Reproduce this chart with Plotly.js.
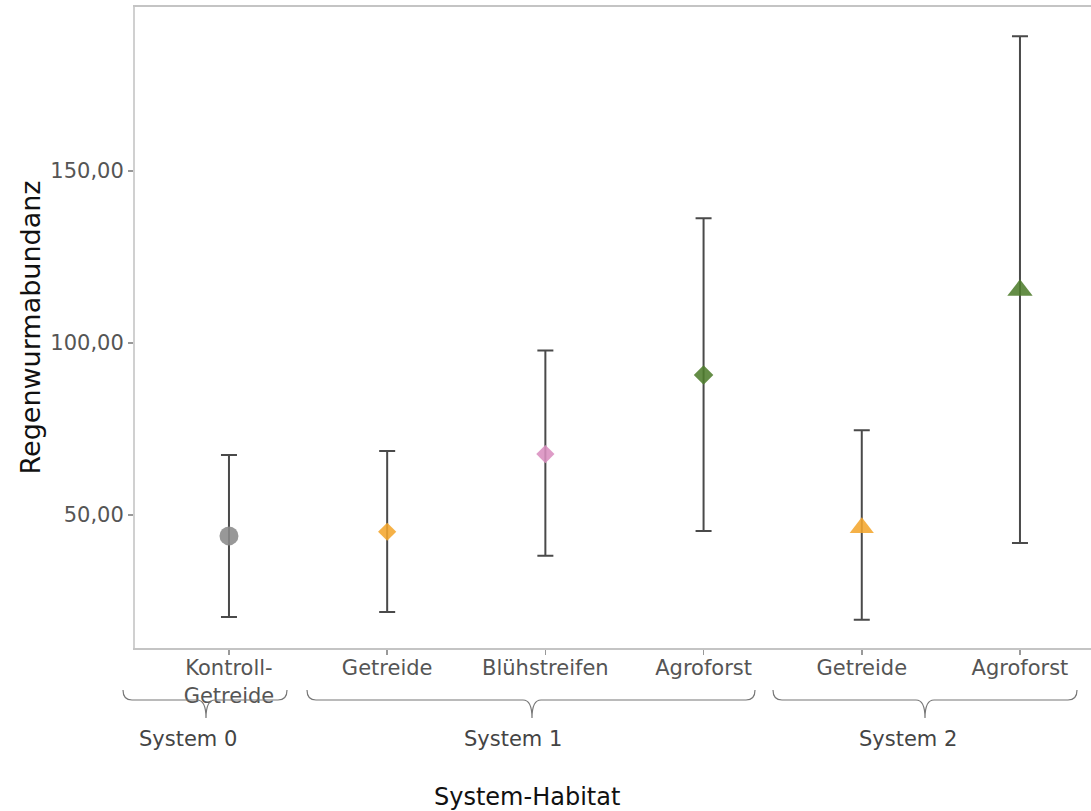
<!DOCTYPE html>
<html>
<head>
<meta charset="utf-8">
<script src="https://cdn.plot.ly/plotly-3.0.1.min.js"></script>
<style>html,body{margin:0;padding:0;background:#fff;}#chart{width:1091px;height:811px;}</style>
</head>
<body>
<div id="chart"></div>
<script>
// ---- data ----
const categories = ['Kontroll-<br>Getreide', 'Getreide', 'Blühstreifen', 'Agroforst', 'Getreide', 'Agroforst'];
const systems = ['System 0', 'System 1', 'System 2'];
const means = [43.9, 45.1, 67.7, 90.7, 46.3, 115.3];
const upper = [67.4, 68.6, 97.8, 136.3, 74.6, 189.2];
const lower = [20.3, 21.8, 38.1, 45.3, 19.5, 41.8];
const yTicks = [50, 100, 150];

// ---- styles ----
const markerColors = ['#8a8a8a', '#F4A62E', '#DA8EBF', '#4F7D2C', '#F4A62E', '#4F7D2C'];
const markerSymbols = ['circle', 'diamond', 'diamond', 'diamond', 'triangle-up', 'triangle-up'];
const markerSizes = [19, 14, 14, 15, 21, 22];

const xIdx = categories.map((_, i) => i);

const trace = {
  type: 'scatter',
  mode: 'markers',
  x: xIdx,
  y: means,
  error_y: {
    type: 'data',
    symmetric: false,
    array: upper.map((u, i) => u - means[i]),
    arrayminus: lower.map((l, i) => means[i] - l),
    color: '#4a4a4a',
    thickness: 2,
    width: 8
  },
  marker: {
    color: markerColors,
    symbol: markerSymbols,
    size: markerSizes,
    opacity: 0.88,
    line: {width: 0}
  },
  hoverinfo: 'x+y',
  showlegend: false
};

// pixel -> paper helpers (layout geometry)
const W = 1091, H = 811, ML = 135, MT = 7, MB = 163;
const PW = W - ML, PH = H - MT - MB;
const px = X => (X - ML) / PW;
const py = Y => (H - MB - Y) / PH;

function brace(x0, x1, xc) {
  const yt = 690, ym = 700, ytip = 718, r = 9;
  const p = (X, Y) => px(X).toFixed(5) + ',' + py(Y).toFixed(5);
  return 'M' + p(x0, yt) + ' Q' + p(x0, ym) + ' ' + p(x0 + r, ym) +
    ' L' + p(xc - r, ym) + ' Q' + p(xc, ym) + ' ' + p(xc, ytip) +
    ' Q' + p(xc, ym) + ' ' + p(xc + r, ym) +
    ' L' + p(x1 - r, ym) + ' Q' + p(x1, ym) + ' ' + p(x1, yt);
}

const braceDefs = [[123, 287, 206], [307, 755, 532], [773, 1077, 925]];
const labelX = [188, 513, 908];

const shapes = braceDefs.map(b => ({
  type: 'path', xref: 'paper', yref: 'paper',
  path: brace(b[0], b[1], b[2]),
  line: {color: '#777', width: 1.2}
}));

const annotations = systems.map((s, i) => ({
  text: s, xref: 'paper', yref: 'paper',
  x: px(labelX[i]), y: py(739), xanchor: 'center', yanchor: 'middle',
  showarrow: false,
  font: {family: 'DejaVu Sans, sans-serif', size: 21, color: '#444'}
}));
annotations.push({
  text: 'System-Habitat', xref: 'paper', yref: 'paper',
  x: px(527), y: py(797), xanchor: 'center', yanchor: 'middle',
  showarrow: false,
  font: {family: 'DejaVu Sans, sans-serif', size: 24, color: '#111'}
});

const layout = {
  width: W, height: H,
  margin: {l: ML, r: 0, t: MT, b: MB, pad: 0},
  paper_bgcolor: '#fff', plot_bgcolor: '#fff',
  separators: ',.',
  font: {family: 'DejaVu Sans, sans-serif'},
  xaxis: {
    range: [-0.594, 5.449],
    tickmode: 'array',
    tickvals: xIdx,
    ticktext: categories,
    showgrid: false, zeroline: false,
    showline: true, linecolor: '#c4c4c4', linewidth: 2,
    mirror: true,
    ticks: 'outside', ticklen: 5, tickwidth: 1.5, tickcolor: '#999',
    ticklabelstandoff: -5,
    tickfont: {family: 'DejaVu Sans, sans-serif', size: 21, color: '#555'},
    fixedrange: true
  },
  yaxis: {
    range: [11.3, 197.7],
    tickmode: 'array',
    tickvals: yTicks,
    tickformat: '.2f',
    showgrid: false, zeroline: false,
    showline: true, linecolor: '#d0d0d0', linewidth: 2,
    ticks: 'outside', ticklen: 5, tickwidth: 1.5, tickcolor: '#999',
    tickfont: {family: 'DejaVu Sans, sans-serif', size: 21, color: '#555'},
    title: {text: 'Regenwurmabundanz', standoff: 2,
            font: {family: 'DejaVu Sans, sans-serif', size: 27, color: '#111'}},
    fixedrange: true
  },
  shapes: shapes,
  annotations: annotations
};

Plotly.newPlot('chart', [trace], layout, {displayModeBar: false, staticPlot: true});
</script>
</body>
</html>
